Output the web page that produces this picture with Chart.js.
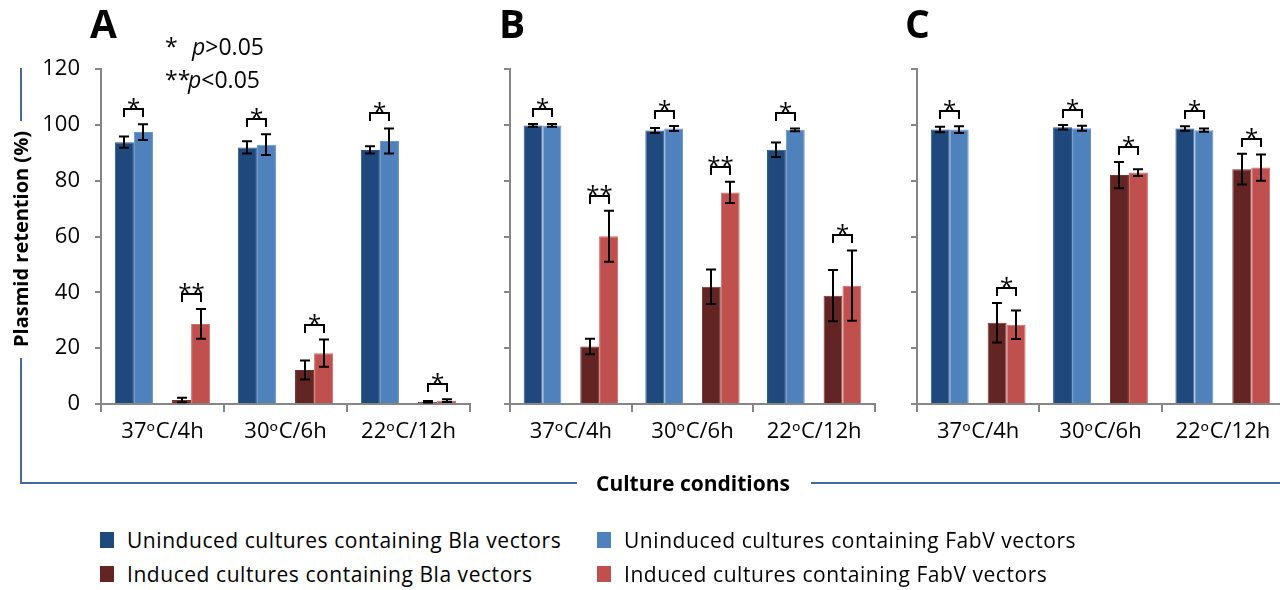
<!DOCTYPE html>
<html><head><meta charset="utf-8">
<script src="https://cdn.jsdelivr.net/npm/chart.js@4.4.1/dist/chart.umd.min.js"></script>
<style>
html,body{margin:0;padding:0;background:#fff;width:1280px;height:590px;overflow:hidden;position:relative;font-family:'Open Sans','DejaVu Sans',sans-serif;}
canvas{position:absolute;top:0;}
.t{position:absolute;white-space:nowrap;line-height:1;color:#000;}
.ln{position:absolute;background:#44699d;}
.sq{position:absolute;width:14px;height:16px;}
</style></head><body>
<canvas id="cA" width="490" height="450" style="left:0px"></canvas>
<canvas id="cB" width="490" height="450" style="left:409px"></canvas>
<canvas id="cC" width="490" height="450" style="left:816px"></canvas>

<div class="t" style="left:90px;top:3px;font-size:39px;font-weight:700;">A</div>
<div class="t" style="left:499px;top:3px;font-size:39px;font-weight:700;">B</div>
<div class="t" style="left:905px;top:3px;font-size:39px;font-weight:700;">C</div>

<div class="t" style="left:165px;top:35px;font-size:23px;">*</div>
<div class="t" style="left:192px;top:35px;font-size:23px;"><i>p</i>&gt;0.05</div>
<div class="t" style="left:165px;top:68px;font-size:23px;">**</div>
<div class="t" style="left:188px;top:68px;font-size:23px;"><i>p</i>&lt;0.05</div>

<div class="ln" style="left:20px;top:68px;width:2px;height:53px;"></div>
<div class="ln" style="left:20px;top:358px;width:2px;height:126px;"></div>
<div class="ln" style="left:20px;top:482px;width:557px;height:2px;"></div>
<div class="ln" style="left:811px;top:482px;width:469px;height:2px;"></div>
<div class="t" style="left:21px;top:239px;font-size:20px;font-weight:700;transform:translate(-50%,-50%) rotate(-90deg);">Plasmid retention (%)</div>
<div class="t" style="left:693px;top:483px;font-size:21px;font-weight:700;transform:translate(-50%,-50%);">Culture conditions</div>

<div id="legend"></div>

<script>
// ---------- data ----------
const categories = ['37ᵒC/4h', '30ᵒC/6h', '22ᵒC/12h'];
const seriesNames = [
  'Uninduced cultures containing Bla vectors',
  'Uninduced cultures containing FabV vectors',
  'Induced cultures containing Bla vectors',
  'Induced cultures containing FabV vectors'
];
const yTickLabels = [0, 20, 40, 60, 80, 100, 120];

// Panel A
const A_unBla = [93.8, 91.9, 91.0];   const A_unBlaErr = [2.0, 2.2, 1.3];
const A_unFab = [97.4, 92.9, 94.2];   const A_unFabErr = [2.8, 3.7, 4.5];
const A_inBla = [1.4, 12.2, 0.8];     const A_inBlaErr = [0.8, 3.4, 0.3];
const A_inFab = [28.7, 18.2, 1.2];    const A_inFabErr = [5.3, 4.9, 0.5];
const A_sigUninduced = ['*', '*', '*'];
const A_sigInduced = ['**', '*', '*'];

// Panel B
const B_unBla = [99.8, 98.0, 91.1];   const B_unBlaErr = [0.5, 0.9, 2.6];
const B_unFab = [99.8, 98.7, 98.2];   const B_unFabErr = [0.5, 0.9, 0.5];
const B_inBla = [20.6, 42.0, 38.8];   const B_inBlaErr = [2.8, 6.2, 9.2];
const B_inFab = [60.1, 75.8, 42.4];   const B_inFabErr = [9.1, 3.8, 12.6];
const B_sigUninduced = ['*', '*', '*'];
const B_sigInduced = ['**', '**', '*'];

// Panel C
const C_unBla = [98.3, 99.1, 98.7];   const C_unBlaErr = [1.0, 0.8, 0.8];
const C_unFab = [98.3, 98.8, 98.1];   const C_unFabErr = [1.2, 0.9, 0.6];
const C_inBla = [29.1, 82.0, 84.1];   const C_inBlaErr = [7.1, 4.7, 5.5];
const C_inFab = [28.4, 82.9, 84.7];   const C_inFabErr = [5.1, 1.2, 4.7];
const C_sigUninduced = ['*', '*', '*'];
const C_sigInduced = ['*', '*', '*'];

// ---------- styles ----------
const FONT = "'Open Sans', 'DejaVu Sans', sans-serif";
const AXIS = '#868686';
const fills = ['#1F497D', '#4F81BD', '#632523', '#C0504D'];
const edges = ['#2d5688', '#6b95c9', '#74332f', '#cf6b68'];

const sigPlugin = {
  id: 'sigbars',
  afterDatasetsDraw(chart, args, opts) {
    const ctx = chart.ctx, y = chart.scales.y;
    ctx.save();
    ctx.strokeStyle = '#000';
    ctx.fillStyle = '#000';
    ctx.lineWidth = 2;
    const tops = {};
    chart.data.datasets.forEach((ds, di) => {
      if (!ds.err) return;
      const meta = chart.getDatasetMeta(di);
      meta.data.forEach((bar, i) => {
        const v = ds.data[i], e = ds.err[i];
        const yt = y.getPixelForValue(v + e), yb = y.getPixelForValue(v - e);
        const x = Math.round(bar.x);
        ctx.beginPath();
        ctx.moveTo(x, yt); ctx.lineTo(x, yb);
        ctx.moveTo(x - 5, yt); ctx.lineTo(x + 5, yt);
        ctx.moveTo(x - 5, yb); ctx.lineTo(x + 5, yb);
        ctx.stroke();
        tops[di + '_' + i] = { x: x, y: yt };
      });
    });
    ctx.font = '24px ' + FONT;
    ctx.textAlign = 'center';
    ctx.textBaseline = 'alphabetic';
    [[0, 1, opts.uninduced], [3, 4, opts.induced]].forEach(([a, b, labels]) => {
      labels.forEach((lab, i) => {
        const P = tops[a + '_' + i], Q = tops[b + '_' + i];
        const top = Math.min(P.y, Q.y);
        const legB = Math.round(top - 7), barT = legB - 8;
        ctx.beginPath();
        ctx.moveTo(P.x, legB); ctx.lineTo(P.x, barT); ctx.lineTo(Q.x, barT); ctx.lineTo(Q.x, legB);
        ctx.stroke();
        const m = ctx.measureText(lab);
        const cy = barT - 6;
        ctx.fillText(lab, (P.x + Q.x) / 2, cy + (m.actualBoundingBoxAscent - m.actualBoundingBoxDescent) / 2);
      });
    });
    ctx.restore();
  }
};

function makePanel(id, padRight, showLabels, vals, errs, sigU, sigI) {
  const datasets = [];
  [0, 1, null, 2, 3].forEach(k => {
    if (k === null) {
      datasets.push({ label: '', data: categories.map(() => null), backgroundColor: 'rgba(0,0,0,0)' });
    } else {
      datasets.push({ label: seriesNames[k], data: vals[k], err: errs[k],
        backgroundColor: fills[k], borderColor: edges[k], borderWidth: 1 });
    }
  });
  new Chart(document.getElementById(id), {
    type: 'bar',
    data: { labels: categories, datasets },
    options: {
      responsive: false, animation: false, devicePixelRatio: 1,
      layout: { padding: { top: 69, right: padRight, left: 0, bottom: 0 } },
      datasets: { bar: { categoryPercentage: 0.775, barPercentage: 1 } },
      plugins: { legend: { display: false }, tooltip: { enabled: false },
        sigbars: { uninduced: sigU, induced: sigI } },
      scales: {
        x: {
          grid: { offset: true, drawOnChartArea: false, drawTicks: true, tickLength: 8, color: AXIS, lineWidth: 2 },
          border: { color: AXIS, width: 2 },
          ticks: { font: { family: FONT, size: 22 }, color: '#000', padding: 7, maxRotation: 0, autoSkip: false },
          afterFit(s) { s.height = 46; }
        },
        y: {
          min: yTickLabels[0], max: yTickLabels[yTickLabels.length - 1],
          ticks: { stepSize: yTickLabels[1] - yTickLabels[0], font: { family: FONT, size: 22 },
            color: showLabels ? '#000' : 'rgba(0,0,0,0)', padding: 15 },
          grid: { drawOnChartArea: false, drawTicks: true, tickLength: 6, color: AXIS, lineWidth: 2 },
          border: { color: AXIS, width: 2 },
          afterFit(s) { s.width = 101; }
        }
      }
    },
    plugins: [sigPlugin]
  });
}

makePanel('cA', 20, true,
  [A_unBla, A_unFab, A_inBla, A_inFab], [A_unBlaErr, A_unFabErr, A_inBlaErr, A_inFabErr], A_sigUninduced, A_sigInduced);
makePanel('cB', 24, false,
  [B_unBla, B_unFab, B_inBla, B_inFab], [B_unBlaErr, B_unFabErr, B_inBlaErr, B_inFabErr], B_sigUninduced, B_sigInduced);
makePanel('cC', 22, false,
  [C_unBla, C_unFab, C_inBla, C_inFab], [C_unBlaErr, C_unFabErr, C_inBlaErr, C_inFabErr], C_sigUninduced, C_sigInduced);

// ---------- legend ----------
const legendPos = [[100, 532], [597, 532], [100, 566], [597, 566]];
const lg = document.getElementById('legend');
seriesNames.forEach((name, k) => {
  const [lx, ly] = legendPos[k];
  const sq = document.createElement('div');
  sq.className = 'sq';
  sq.style.left = lx + 'px'; sq.style.top = ly + 'px'; sq.style.background = fills[k];
  lg.appendChild(sq);
  const tx = document.createElement('div');
  tx.className = 't';
  tx.style.left = (lx + 27) + 'px'; tx.style.top = (ly + 8) + 'px';
  tx.style.fontSize = '21px'; tx.style.letterSpacing = '0.55px';
  tx.style.transform = 'translateY(-50%)';
  tx.textContent = name;
  lg.appendChild(tx);
});
</script>
</body></html>
